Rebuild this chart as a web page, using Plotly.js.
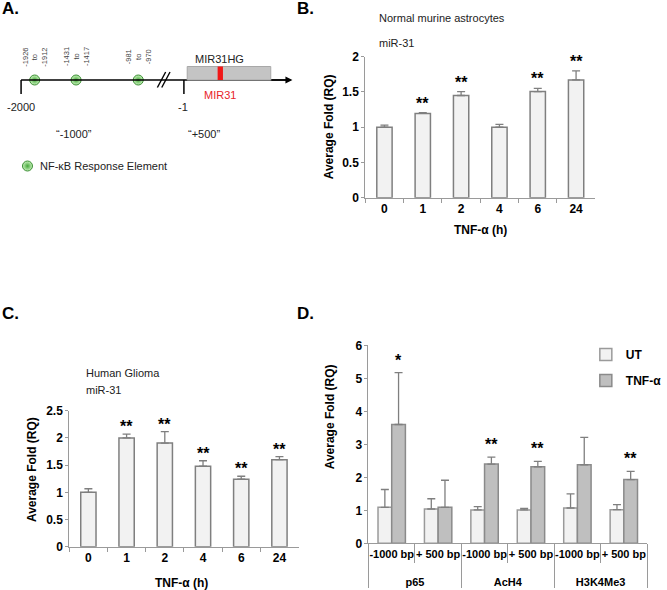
<!DOCTYPE html>
<html>
<head>
<meta charset="utf-8">
<script src="https://cdn.plot.ly/plotly-3.0.1.min.js"></script>
<style>
  html, body { margin: 0; padding: 0; background: #fff; }
  #fig { width: 667px; height: 590px; }
</style>
</head>
<body>
<div id="fig"></div>
<script>
// B / C: time course of miR-31
const times = ['0', '1', '2', '4', '6', '24'];
const astroFold = [1.0, 1.195, 1.45, 1.0, 1.505, 1.67];
const astroErr = [0.03, 0.01, 0.055, 0.04, 0.045, 0.13];
const astroSig = ['', '**', '**', '', '**', '**'];

const gliomaFold = [1.0, 2.0, 1.905, 1.48, 1.24, 1.6];
const gliomaErr = [0.065, 0.07, 0.21, 0.1, 0.055, 0.055];
const gliomaSig = ['', '**', '**', '**', '**', '**'];

// D: ChIP
const chipTargets = ['p65', 'p65', 'AcH4', 'AcH4', 'H3K4Me3', 'H3K4Me3'];
const chipRegions = ['-1000 bp', '+ 500 bp', '-1000 bp', '+ 500 bp', '-1000 bp', '+ 500 bp'];
const utFold = [1.09, 1.04, 1.01, 1.01, 1.07, 1.02];
const utErr = [0.54, 0.31, 0.1, 0.05, 0.43, 0.15];
const tnfFold = [3.6, 1.09, 2.4, 2.32, 2.38, 1.93];
const tnfErr = [1.57, 0.82, 0.21, 0.16, 0.83, 0.25];
const chipSig = ['*', '', '**', '**', '', '**'];

// A: promoter schematic (diagram units)
const nfkbSites = [35.7, 78.3, 142.3];
const nfkbLabels = ['-1926<br>to<br>-1912', '-1431<br>to<br>-1417', '-981<br>to<br>-970'];

const W = 667, H = 590;
const px = v => v / W;
const py = v => 1 - v / H;

const FONT = 'Arial, "Liberation Sans", sans-serif';
const boldFont = { family: FONT, size: 12, color: '#000', weight: 'bold' };
const axisGray = '#9a9a9a';

// outer group labels sit one line lower, like the reference
const chipGroups = chipTargets.map(t => '<br>' + t);

function barTrace(x, y, err, xa, ya, fill, line, extra) {
    return Object.assign({
        type: 'bar', x: x, y: y, xaxis: xa, yaxis: ya,
        marker: { color: fill, line: { color: line, width: 1.5 } },
        error_y: { type: 'data', array: err, arrayminus: err.map(() => 0), symmetric: false,
                   color: '#7f7f7f', thickness: 1.3, width: 4 },
        showlegend: false, hoverinfo: 'x+y'
    }, extra || {});
}

const traces = [
    barTrace(times, astroFold, astroErr, 'x', 'y', '#f2f2f2', '#7f7f7f', { width: 0.4 }),
    barTrace(times, gliomaFold, gliomaErr, 'x2', 'y2', '#f2f2f2', '#7f7f7f', { width: 0.4 }),
    barTrace([chipGroups, chipRegions], utFold, utErr, 'x3', 'y3', '#f2f2f2', '#9a9a9a',
             { name: 'UT', width: 0.295, offset: -0.295, showlegend: true, legendgroup: 'ut' }),
    barTrace([chipGroups, chipRegions], tnfFold, tnfErr, 'x3', 'y3', '#bfbfbf', '#8a8a8a',
             { name: 'TNF-α', width: 0.295, offset: 0, showlegend: true, legendgroup: 'tnf' }),
    {
        type: 'scatter', mode: 'markers', x: nfkbSites.concat([28.3]), y: nfkbSites.map(() => 80).concat([166]),
        xaxis: 'x4', yaxis: 'y4', showlegend: false, hoverinfo: 'skip',
        marker: { size: 10, color: '#c9f2bd', gradient: { type: 'radial', color: '#45a83a' },
                  line: { color: '#3b8f33', width: 1 } }
    }
];

const annotations = [];
function note(text, x, y, opts) {
    annotations.push(Object.assign({
        text: text, x: x, y: y, xref: 'paper', yref: 'paper', showarrow: false,
        xanchor: 'center', yanchor: 'middle',
        font: { family: FONT, size: 11, color: '#222' }
    }, opts || {}));
}

// panel letters
const letterFont = { family: FONT, size: 17, color: '#000', weight: 'bold' };
note('A.', px(0), py(9), { xanchor: 'left', font: letterFont });
note('B.', px(304), py(9), { xanchor: 'left', font: letterFont });
note('C.', px(0), py(313), { xanchor: 'left', font: letterFont });
note('D.', px(304), py(313), { xanchor: 'left', font: letterFont });

// titles
note('Normal murine astrocytes', px(388), py(18), { xanchor: 'left' });
note('miR-31', px(388), py(43), { xanchor: 'left' });
note('Human Glioma', px(86), py(373), { xanchor: 'left' });
note('miR-31', px(86), py(390), { xanchor: 'left' });

// axis titles
note('Average Fold (RQ)', px(339), py(127), { textangle: -90, font: boldFont });
note('TNF-α (h)', px(495), py(230), { font: boldFont });
note('Average Fold (RQ)', px(33), py(470), { textangle: -90, font: boldFont });
note('TNF-α (h)', px(187), py(583), { font: boldFont });
note('Average Fold (RQ)', px(340), py(417), { textangle: -90, font: boldFont });

// significance stars (x given as category index)
const starFont = { family: FONT, size: 16, color: '#000', weight: 'bold' };
function stars(ys, es, sig, xa, ya, dx, shift) {
    sig.forEach((s, i) => {
        if (!s) return;
        annotations.push({
            text: s, x: i + dx, y: ys[i] + es[i], xref: xa, yref: ya, showarrow: false,
            xanchor: 'center', yanchor: 'bottom', yshift: shift, font: starFont
        });
    });
}
stars(astroFold, astroErr, astroSig, 'x', 'y', 0, -1);
stars(gliomaFold, gliomaErr, gliomaSig, 'x2', 'y2', 0, -3);
stars(tnfFold, tnfErr, chipSig, 'x3', 'y3', 0.1475, 2);

// A: schematic text
function aText(text, x, y, opts) {
    annotations.push(Object.assign({
        text: text, x: x, y: y, xref: 'x4', yref: 'y4', showarrow: false,
        xanchor: 'center', yanchor: 'middle',
        font: { family: FONT, size: 11, color: '#222' }
    }, opts || {}));
}
nfkbSites.forEach((s, i) => {
    aText(nfkbLabels[i], s, 57, { textangle: -90, font: { family: FONT, size: 7.5, color: '#444' } });
});
aText('MIR31HG', 226, 59);
aText('MIR31', 226, 95, { font: { family: FONT, size: 11, color: '#e8232a' } });
aText('-2000', 22, 107);
aText('-1', 188, 107);
aText('“-1000”', 76, 134);
aText('“+500”', 210, 134);
aText('NF-κB Response Element', 39, 166, { xanchor: 'left' });
annotations.push({
    x: 301, y: 80, ax: 278, ay: 80, xref: 'x4', yref: 'y4', axref: 'x4', ayref: 'y4',
    text: '', showarrow: true, arrowhead: 2, arrowsize: 1, arrowwidth: 1.4, arrowcolor: '#000'
});

const shapes = [
    // main line and ticks
    { type: 'line', xref: 'x4', yref: 'y4', x0: 21.7, x1: 296, y0: 80, y1: 80, line: { color: '#000', width: 1.5 } },
    { type: 'line', xref: 'x4', yref: 'y4', x0: 21.7, x1: 21.7, y0: 80, y1: 94, line: { color: '#000', width: 1.5 } },
    { type: 'line', xref: 'x4', yref: 'y4', x0: 189.3, x1: 189.3, y0: 80, y1: 94, line: { color: '#000', width: 1.5 } },
    // break marks
    { type: 'line', xref: 'x4', yref: 'y4', x0: 162, x1: 170.5, y0: 87.5, y1: 72, line: { color: '#000', width: 1.4 } },
    { type: 'line', xref: 'x4', yref: 'y4', x0: 166.5, x1: 175, y0: 87.5, y1: 72, line: { color: '#000', width: 1.4 } },
    // MIR31HG gene box and MIR31
    { type: 'rect', xref: 'x4', yref: 'y4', x0: 192.7, x1: 278.7, y0: 66.5, y1: 80, fillcolor: '#c4c4c4', line: { color: '#a8a8a8', width: 1 } },
    { type: 'rect', xref: 'x4', yref: 'y4', x0: 224, x1: 229.5, y0: 66.5, y1: 80, fillcolor: '#f01818', line: { width: 0 } }
];

const yCommon = {
    showgrid: false, zeroline: false, showline: true, linecolor: axisGray, linewidth: 1,
    ticks: 'outside', ticklen: 3, tickcolor: axisGray, tickfont: boldFont, fixedrange: true
};
const xCat = {
    type: 'category', showgrid: false, zeroline: false, showline: true, linecolor: axisGray, linewidth: 1,
    ticks: 'outside', tickson: 'boundaries', ticklen: 4, tickcolor: axisGray, tickfont: boldFont,
    tickangle: 0
};

const layout = {
    width: W, height: H,
    margin: { l: 0, r: 0, t: 0, b: 0 },
    paper_bgcolor: '#fff', plot_bgcolor: 'rgba(0,0,0,0)',
    font: { family: FONT },
    barmode: 'overlay',
    showlegend: true,
    legend: {
        x: px(603), y: py(340), xanchor: 'left', yanchor: 'top',
        font: boldFont, bgcolor: 'rgba(0,0,0,0)', tracegroupgap: 7, itemclick: false
    },
    xaxis: Object.assign({}, xCat, { domain: [px(376), px(612.7)], anchor: 'y' }),
    yaxis: Object.assign({}, yCommon, { domain: [py(197.7), py(56.7)], range: [0, 2], dtick: 0.5, anchor: 'x' }),
    xaxis2: Object.assign({}, xCat, { domain: [px(71.3), px(307.3)], anchor: 'y2' }),
    yaxis2: Object.assign({}, yCommon, { domain: [py(546.7), py(410.7)], range: [0, 2.5], dtick: 0.5, anchor: 'x2' }),
    xaxis3: {
        type: 'multicategory', domain: [px(379.3), px(666)], anchor: 'y3',
        showgrid: false, zeroline: false, showline: true, linecolor: axisGray, linewidth: 1,
        ticks: 'outside', tickson: 'boundaries', ticklen: 19, tickcolor: axisGray,
        tickfont: { family: FONT, size: 11, color: '#000', weight: 'bold' }, tickangle: 0,
        showdividers: true, dividercolor: axisGray, dividerwidth: 1
    },
    yaxis3: Object.assign({}, yCommon, { domain: [py(543.3), py(345.3)], range: [0, 6], dtick: 1, anchor: 'x3' }),
    xaxis4: { domain: [0, px(330)], range: [0, 330], visible: false, fixedrange: true, anchor: 'y4' },
    yaxis4: { domain: [py(240), 1], range: [240, 0], visible: false, fixedrange: true, anchor: 'x4' },
    annotations: annotations,
    shapes: shapes
};

Plotly.newPlot('fig', traces, layout, { displayModeBar: false, staticPlot: true });
</script>
</body>
</html>
